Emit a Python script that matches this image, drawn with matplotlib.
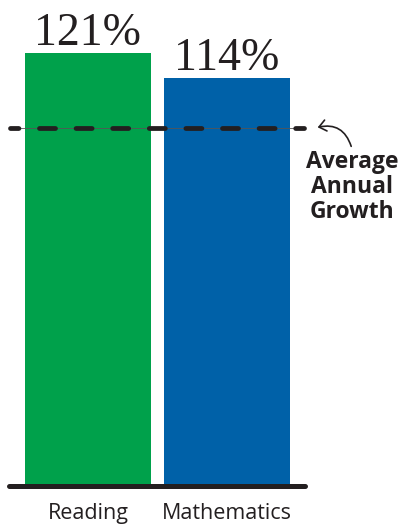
import matplotlib
matplotlib.use("Agg")
import matplotlib.pyplot as plt
from matplotlib.patches import FancyArrowPatch

categories = ["Reading", "Mathematics"]
values = [121, 114]
value_labels = ["121%", "114%"]
colors = ["#00A14B", "#0061A8"]
reference_value = 100
reference_label = "Average\nAnnual\nGrowth"

plt.rcParams['lines.scale_dashes'] = False
W, H = 403, 525
fig = plt.figure(figsize=(W / 100, H / 100), dpi=100)

px_per_unit = 3.58
base_px = 486
ymax = 130
bottom = (H - base_px) / H
height = ymax * px_per_unit / H
ax = fig.add_axes([0, bottom, 1, height])

pitch = 139.0
x0px = 88.0
def px2x(p):
    return (p - x0px) / pitch

ax.set_xlim(px2x(0), px2x(W))
ax.set_ylim(0, ymax)
ax.axis('off')

xs = list(range(len(categories)))
ax.bar(xs, values, width=126 / pitch, color=colors, zorder=2)

txt_col = "#231F20"
for x, v, lab in zip(xs, values, value_labels):
    ax.annotate(lab, (x, v), xytext=(0, 5.8), textcoords='offset points',
                ha='center', va='baseline', fontsize=33, family='Liberation Serif',
                color=txt_col)

for x, c in zip(xs, categories):
    ax.annotate(c, (x, 0), xytext=(0, -23.5), textcoords='offset points',
                ha='center', va='baseline', fontsize=15.5, family='Open Sans',
                color=txt_col)

# baseline
ax.plot([px2x(9), px2x(305)], [0, 0], color=txt_col, lw=3.6,
        solid_capstyle='round', zorder=3, clip_on=False)

# reference line: thin solid + thick dashes
ax.plot([px2x(10), px2x(302)], [reference_value] * 2, color="#555555", lw=0.6, zorder=3)
lw_px = 4.8
on_px = 16.0
off_px = 36.6 - on_px
off0 = 10 - 2.4
k = 0.72
ax.plot([px2x(10), px2x(304)], [reference_value] * 2, color=txt_col,
        lw=lw_px * k, zorder=4, dash_capstyle='round',
        linestyle=(off0 * k, (on_px * k, off_px * k)))

# annotation
ax.annotate(reference_label, (px2x(352), reference_value), xytext=(0, -16),
            textcoords='offset points', ha='center', va='top', fontsize=16.5,
            family='Open Sans', fontweight='bold', color=txt_col, linespacing=1.05)

arr = FancyArrowPatch((px2x(352), reference_value - 21 / px_per_unit),
                      (px2x(315), reference_value),
                      connectionstyle="arc3,rad=0.5", arrowstyle='->,head_length=5,head_width=4',
                      color=txt_col, lw=1.2, zorder=5)
ax.add_patch(arr)

fig.savefig("out.png", dpi=100)
